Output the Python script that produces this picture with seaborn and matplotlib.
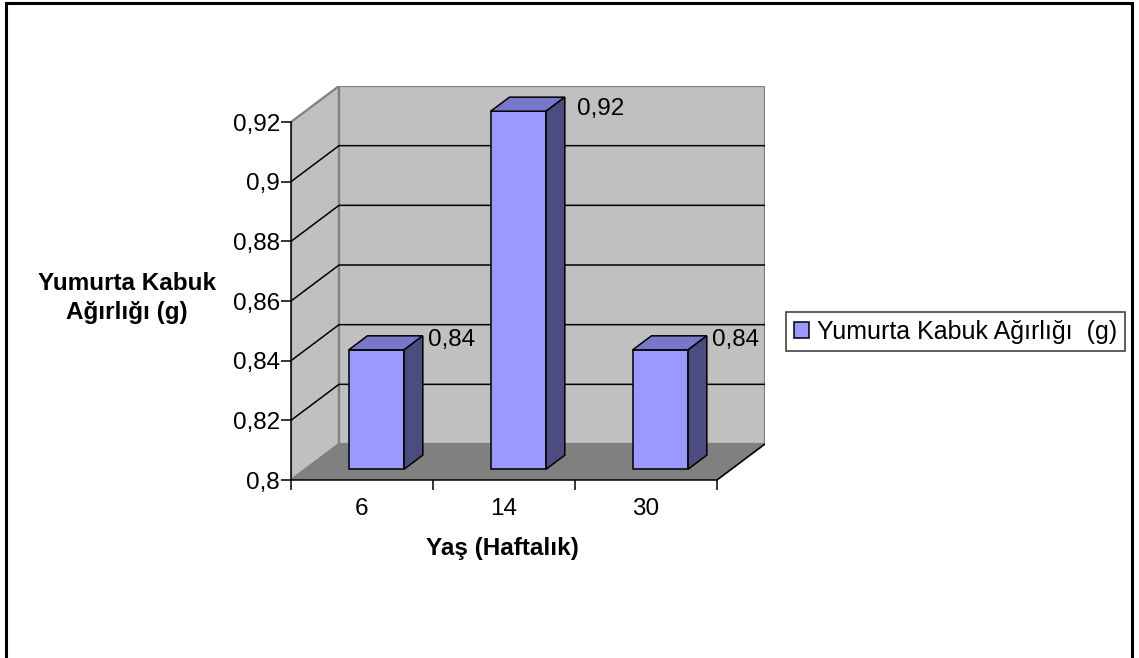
import matplotlib
matplotlib.use("Agg")
import matplotlib.pyplot as plt
from matplotlib.patches import Polygon, Rectangle
import seaborn as sns
import pandas as pd

# Data
ages = ["6", "14", "30"]
shell_weight = [0.84, 0.92, 0.84]
y_ticks = [0.80, 0.82, 0.84, 0.86, 0.88, 0.90, 0.92]
series_name = "Yumurta Kabuk Ağırlığı  (g)"
x_title = "Yaş (Haftalık)"
y_title = "Yumurta Kabuk\nAğırlığı (g)"

sns.set_theme(style="white")
plt.rcParams["font.family"] = ["Liberation Sans", "DejaVu Sans"]
for key in ["text.color", "axes.labelcolor", "xtick.color", "ytick.color"]:
    plt.rcParams[key] = "black"
FS = 17.5

W, H = 1139, 658
fig = plt.figure(figsize=(W / 100, H / 100), dpi=100)
fig.patch.set_facecolor("white")

# 3D depth of the box (in data units)
BASE, TOP = y_ticks[0], y_ticks[-1]
DX = 48 / 142
DY = 36 / (358 / (TOP - BASE))
F_FRONT, F_DEPTH = 0.30, 0.39   # bar front position and bar depth (fraction of box depth)

ax = fig.add_axes([291 / W, (H - 480) / H, (765 - 291) / W, (480 - 86) / H])
ax.set_facecolor("none")

df = pd.DataFrame({"age": ages, "weight": shell_weight})
sns.barplot(data=df, x="age", y="weight", color="#9999FF", saturation=1, width=0.39,
            edgecolor="black", linewidth=1.1, label=series_name, ax=ax, zorder=3)
if ax.get_legend() is not None:
    ax.get_legend().remove()
bars = list(ax.patches)

ax.set_xlim(-0.5, len(ages) - 0.5 + DX)
ax.set_ylim(BASE, TOP + DY)

wall = "#C0C0C0"
wall_edge = "#808080"
floor = "#808080"
x0, x1 = -0.5, len(ages) - 0.5

# side wall
ax.add_patch(Polygon([(x0, BASE), (x0 + DX, BASE + DY), (x0 + DX, TOP + DY), (x0, TOP)],
                     closed=True, facecolor=wall, edgecolor=wall_edge, lw=1.6, zorder=0))
# back wall
ax.add_patch(Rectangle((x0 + DX, BASE + DY), x1 - x0, TOP - BASE,
                       facecolor=wall, edgecolor=wall_edge, lw=1.6, zorder=0))
# gridlines on the walls
for t in y_ticks[1:-1]:
    ax.plot([x0, x0 + DX, x1 + DX], [t, t + DY, t + DY], color="black", lw=1.1, zorder=1)
# floor
ax.add_patch(Polygon([(x0, BASE), (x1, BASE), (x1 + DX, BASE + DY), (x0 + DX, BASE + DY)],
                     closed=True, facecolor=floor, edgecolor="none", zorder=1))
ax.plot([x0 + DX, x0], [BASE + DY, BASE], color=wall_edge, lw=1.2, zorder=1.5)
ax.plot([x1, x1 + DX], [BASE, BASE + DY], color="black", lw=1.2, zorder=1.5)

top_c = "#7777CC"
side_c = "#4C4C80"
for rect, v in zip(bars, shell_weight):
    bx = rect.get_x()
    bw = rect.get_width()
    fx = bx + F_FRONT * DX
    fy = BASE + F_FRONT * DY
    rect.set_x(fx)
    rect.set_y(fy)
    rect.set_height(v - BASE)
    ddx, ddy = F_DEPTH * DX, F_DEPTH * DY
    ty = fy + (v - BASE)
    ax.add_patch(Polygon([(fx, ty), (fx + bw, ty), (fx + bw + ddx, ty + ddy), (fx + ddx, ty + ddy)],
                         closed=True, facecolor=top_c, edgecolor="black", lw=1.1, zorder=3))
    ax.add_patch(Polygon([(fx + bw, fy), (fx + bw + ddx, fy + ddy), (fx + bw + ddx, ty + ddy), (fx + bw, ty)],
                         closed=True, facecolor=side_c, edgecolor="black", lw=1.1, zorder=3))
    # labels are kept inside the plot area below the top of the back wall
    dy_px = -4 if v < TOP else -12
    dx_px = 5 if v < TOP else 12
    ax.annotate(f"{v:g}".replace(".", ","), xy=(fx + bw + ddx, ty + ddy),
                xytext=(dx_px * 0.72, dy_px * 0.72), textcoords="offset points",
                ha="left", va="center", fontsize=FS, color="black", zorder=5)

# axes lines and ticks
for s in ["top", "right"]:
    ax.spines[s].set_visible(False)
for s in ["left", "bottom"]:
    ax.spines[s].set_color("black")
    ax.spines[s].set_linewidth(1.1)
    ax.spines[s].set_zorder(4)
ax.spines["left"].set_bounds(BASE, TOP)
ax.spines["bottom"].set_bounds(x0, x1)

ax.set_yticks(y_ticks)
ax.set_yticklabels([f"{t:g}".replace(".", ",") for t in y_ticks])
ax.tick_params(axis="y", which="major", direction="out", length=7, width=1.1,
               color="black", pad=1, labelsize=FS, left=True)

ax.set_xticks([x0 + i for i in range(len(ages) + 1)])
ax.set_xticklabels([""] * (len(ages) + 1))
ax.set_xticks(range(len(ages)), minor=True)
ax.set_xticklabels(ages, minor=True)
ax.tick_params(axis="x", which="major", direction="out", length=7, width=1.1,
               color="black", bottom=True)
ax.tick_params(axis="x", which="minor", length=0, pad=13, labelsize=FS)

ax.set_xlabel(x_title, fontsize=FS, fontweight="bold")
ax.xaxis.set_label_coords((502 - 291) / 474, (480 - 537) / 394)
ax.set_ylabel(y_title, fontsize=FS, fontweight="bold", rotation=0,
              ha="center", va="center", multialignment="center", linespacing=1.35)
ax.yaxis.set_label_coords((127 - 291) / 474, (480 - 298) / 394)

handles, labels = ax.get_legend_handles_labels()
leg = fig.legend(handles[:1], labels[:1], loc="center left",
                 bbox_to_anchor=(786 / W, 1 - 331.5 / H), frameon=True, fancybox=False,
                 shadow=False, fontsize=18, handlelength=0.6, handleheight=0.6,
                 handletextpad=0.35, borderpad=0.3, borderaxespad=0)
leg.get_frame().set_edgecolor("black")
leg.get_frame().set_linewidth(1.1)

# outer chart border
fig.add_artist(Rectangle((6 / W, -0.02), (1132 - 6) / W, 1.02 - 3.5 / H,
                         transform=fig.transFigure, fill=False, edgecolor="black",
                         lw=2.2, clip_on=False))

fig.savefig("out.png", dpi=100, facecolor="white")
